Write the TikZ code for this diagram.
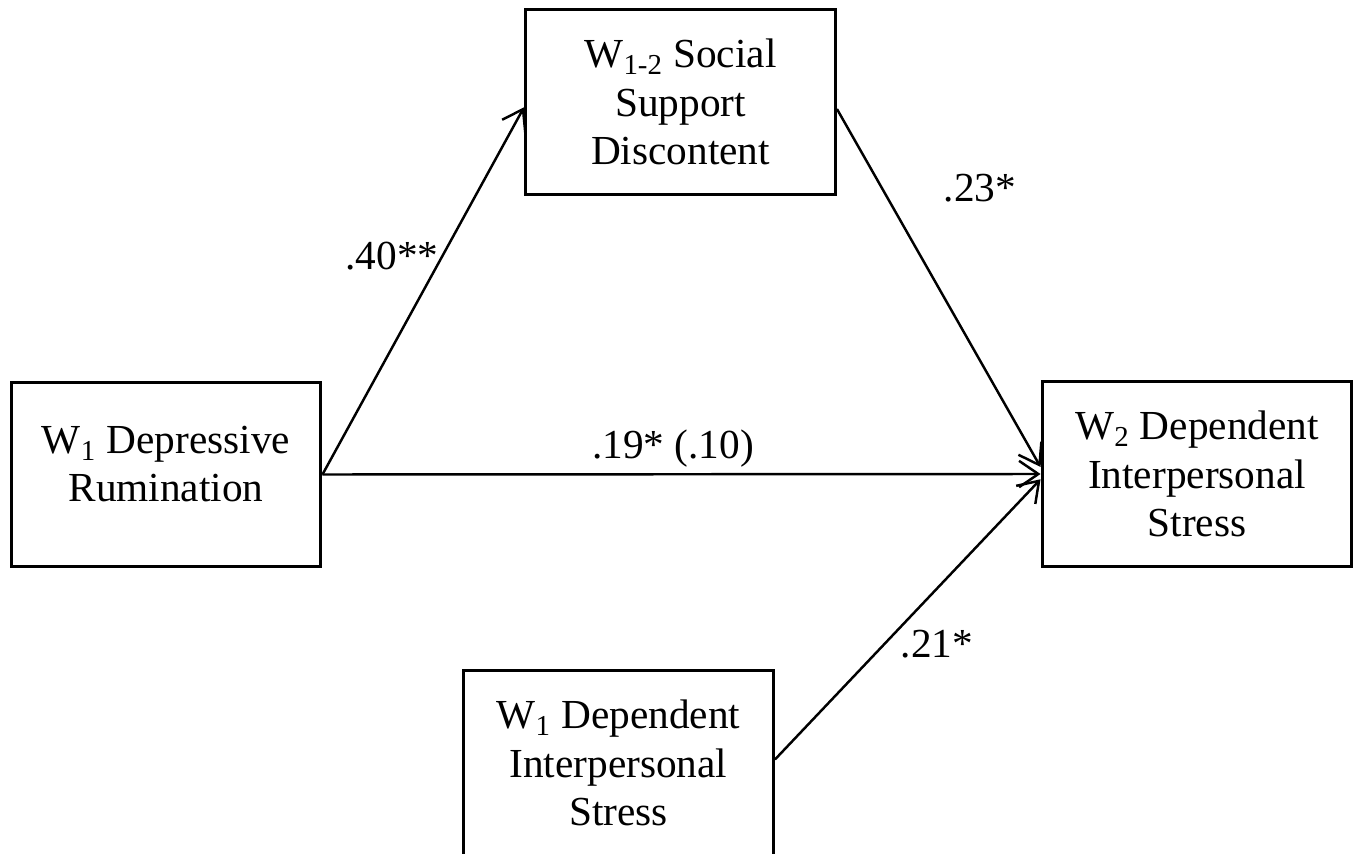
\documentclass[tikz,border=0pt]{standalone}
\usepackage{fontspec}
\setmainfont{Liberation Serif}
\usetikzlibrary{arrows.meta}
\tikzstyle{box}=[fill=white, draw=black, line width=1.7pt, shape=rectangle, align=center, minimum width=6.2cm, minimum height=3.7cm, font=\fontsize{23.5}{27.4}\selectfont]
\tikzstyle{path edge}=[-{Straight Barb[length=11pt, width=15pt]}, draw=black, line width=1.4pt]
\tikzstyle{coef}=[inner sep=0pt, font=\fontsize{23.5}{27.4}\selectfont]

\begin{document}
\begin{tikzpicture}[x=0.02cm, y=-0.02cm]
    	\useasboundingbox (0,0) rectangle (1358,854);
    	% boxes
    	\node [style=box, text depth=12pt] (rum) at (166, 474.5) {W\textsubscript{1} Depressive\\Rumination};
    	\node [style=box] (ssd) at (680.5, 102) {W\textsubscript{1-2} Social\\Support\\Discontent};
    	\node [style=box] (dis2) at (1197, 474) {W\textsubscript{2} Dependent\\Interpersonal\\Stress};
    	\node [style=box] (dis1) at (618.5, 763) {W\textsubscript{1} Dependent\\Interpersonal\\Stress};
    	% paths
    	\draw [style=path edge] (rum.east) to ([yshift=-3pt]ssd.west);
    	\draw [style=path edge] ([yshift=-4pt]ssd.east) to ([yshift=4pt]dis2.west);
    	\draw [style=path edge] (rum.east) to (dis2.west);
    	\draw [style=path edge] ([yshift=2pt]dis1.east) to ([yshift=-3pt]dis2.west);
    	% coefficients
    	\node [style=coef] (a) at (392, 256) {.40**};
    	\node [style=coef] (b) at (980, 188) {.23*};
    	\node [style=coef] (c) at (673, 449) {.19* (.10)};
    	\node [style=coef] (d) at (937, 644) {.21*};
\end{tikzpicture}
\end{document}
